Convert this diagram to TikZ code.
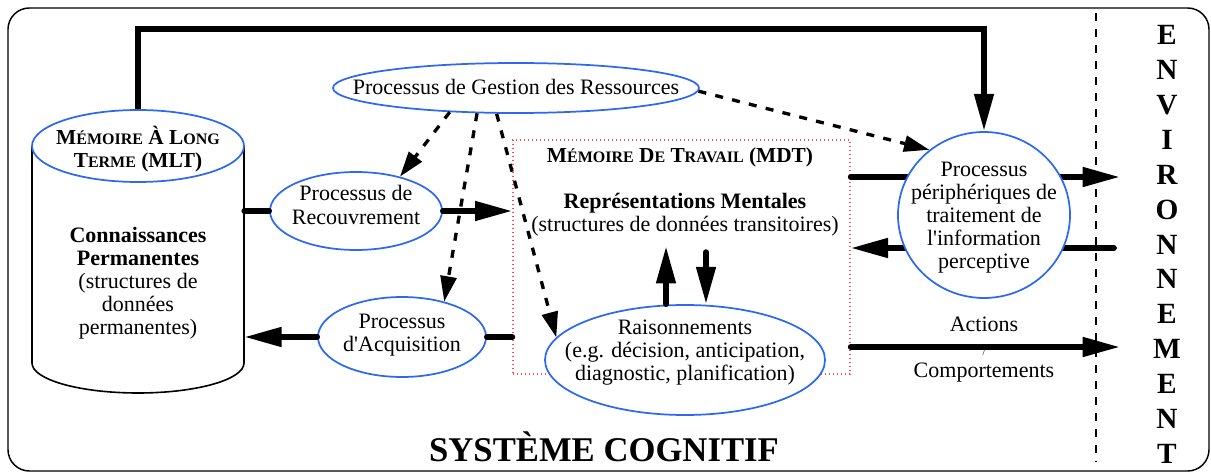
\documentclass[tikz,border=0pt]{standalone}
\usepackage{fontspec}
\setmainfont{Liberation Serif}
\usetikzlibrary{shapes.geometric,arrows.meta,calc}

\definecolor{procblue}{RGB}{45,105,240}
\definecolor{mdtred}{RGB}{245,80,80}
\newcommand{\px}{0.75pt}
\newcommand{\smc}[1]{{\fontsize{12}{14}\selectfont #1}}

\tikzset{
  proc/.style={ellipse, draw=procblue, line width=1.3pt, fill=white, inner sep=0pt},
  txt/.style={align=center, inner sep=0pt, font=\fontsize{16.5}{17.3}\selectfont},
  fat/.style={line width=4.3pt, line cap=round, -{Triangle[length=28pt,width=14pt]}},
  fatline/.style={line width=4.3pt, line cap=round},
  gest/.style={line width=2.5pt, dash pattern=on 6pt off 7pt, -{Triangle[length=19pt,width=12pt]}},
}

\begin{document}
\begin{tikzpicture}[x=0.75pt,y=0.75pt,yscale=-1]
\useasboundingbox (0,0) rectangle (1211,474);

%Shape: frame
\draw[line width=1.1pt, rounded corners=16pt] (8,8) rectangle (1209,471);
%Straight Lines: frontier
\draw[line width=0.9pt, dash pattern=on 6pt off 6pt] (1096,13) -- (1096,462);

%Shape: MLT cylinder
\draw[line width=1.2pt] (32,146) -- (32,363) arc[start angle=180, end angle=0, x radius=106, y radius=30] -- (244,146);
\node[minimum width=212*\px, minimum height=217*\px, inner sep=0pt] (mlt) at (138,254.5) {};
\node[proc, minimum width=212*\px, minimum height=72*\px] (mltt) at (138,146) {};
% Text Node
\node[txt, font=\bfseries\fontsize{16}{17.3}\selectfont] (mlttxt) at (138,149) {M\smc{ÉMOIRE} À L\smc{ONG}\\T\smc{ERME} (MLT)};
% Text Node
\node[txt] (know) at (138,283) {\textbf{Connaissances}\\\textbf{Permanentes}\\(structures de\\données\\permanentes)};

%Shape: MDT
\node[draw=mdtred, dotted, line width=1pt, minimum width=337*\px, minimum height=234*\px] (mdt) at (681.5,257) {};
% Text Node
\node[txt, font=\bfseries\fontsize{16}{17.3}\selectfont] (mdttxt) at (680,157) {M\smc{ÉMOIRE} D\smc{E} T\smc{RAVAIL} (MDT)};
% Text Node
\node[txt] (rep) at (685,215) {\textbf{Représentations Mentales}\\(structures de données transitoires)};

%Straight Lines: through the perception process
\coordinate (out) at (1120,177);
\coordinate (in) at (1114,248);
\coordinate (act) at (1120,347);
\draw[fat] (mdt.east |- out) -- (out);
\draw[fat] (in) -- (in -| mdt.east);
\draw[fat] (mdt.east |- act) -- (act);

%Shape: processes
\node[proc, minimum width=366*\px, minimum height=50*\px] (ges) at (516,88) {};
\node[proc, minimum width=172*\px, minimum height=78*\px] (rec) at (356,211) {};
\node[proc, minimum width=168*\px, minimum height=80*\px] (acq) at (402,337) {};
\node[proc, minimum width=280*\px, minimum height=110*\px] (rai) at (685,360) {};
\node[proc, minimum width=172*\px, minimum height=166*\px] (per) at (984,215) {};

% Text Node
\node[txt] (gestxt) at (516,87) {Processus de Gestion des Ressources};
\node[txt] (rectxt) at (356,205) {Processus de\\Recouvrement};
\node[txt] (acqtxt) at (402,335) {Processus\\d\textquotesingle Acquisition};
\node[txt] (raitxt) at (685,353) {Raisonnements\\(e.g. décision, anticipation,\\diagnostic, planification)};
\node[txt] (pertxt) at (984,218) {Processus\\périphériques de\\traitement de\\l\textquotesingle information\\perceptive};
\node[txt] (actl) at (984,324) {Actions};
\node[txt] (compl) at (984,373) {Comportements};
\node[inner sep=0pt, font=\scriptsize] (sl) at (984,352) {/};

%Straight Lines
\draw[fatline] (rec.west) -- (rec.west -| mlt.east);
\draw[fat] (rec.east) -- (rec.east -| mdt.west);
\draw[fatline] (acq.east -| mdt.west) -- (acq.east);
\draw[fat] (acq.west) -- (acq.west -| mlt.east);
\draw[fat] ($(rai.north)+(-19,0)$) -- ++(0,-58);
\draw[fat] ($(rai.north)+(21,-52)$) -- ($(rai.north)+(21,0)$);
\draw[fat, line cap=butt] (mltt.north) -- ++(0,-80) -| (per.north);

%Dashed Lines
\draw[gest] (ges.200) -- (rec.38);
\draw[gest] (ges.213) -- (acq.40);
\draw[gest] (ges.233) -- (rai.170);
\draw[gest] (ges.-1) -- (per.130);

% Text Node
\foreach \l [count=\i from 0] in {E,N,V,I,R,O,N,N,E,M,E,N,T}
  \node[font=\bfseries\fontsize{22}{22}\selectfont, inner sep=0pt] (env\i) at (1167,35+34.9*\i) {\l};
\node[font=\bfseries\fontsize{26}{26}\selectfont, inner sep=0pt] (sys) at (604,447) {SYSTÈME COGNITIF};

\end{tikzpicture}
\end{document}
